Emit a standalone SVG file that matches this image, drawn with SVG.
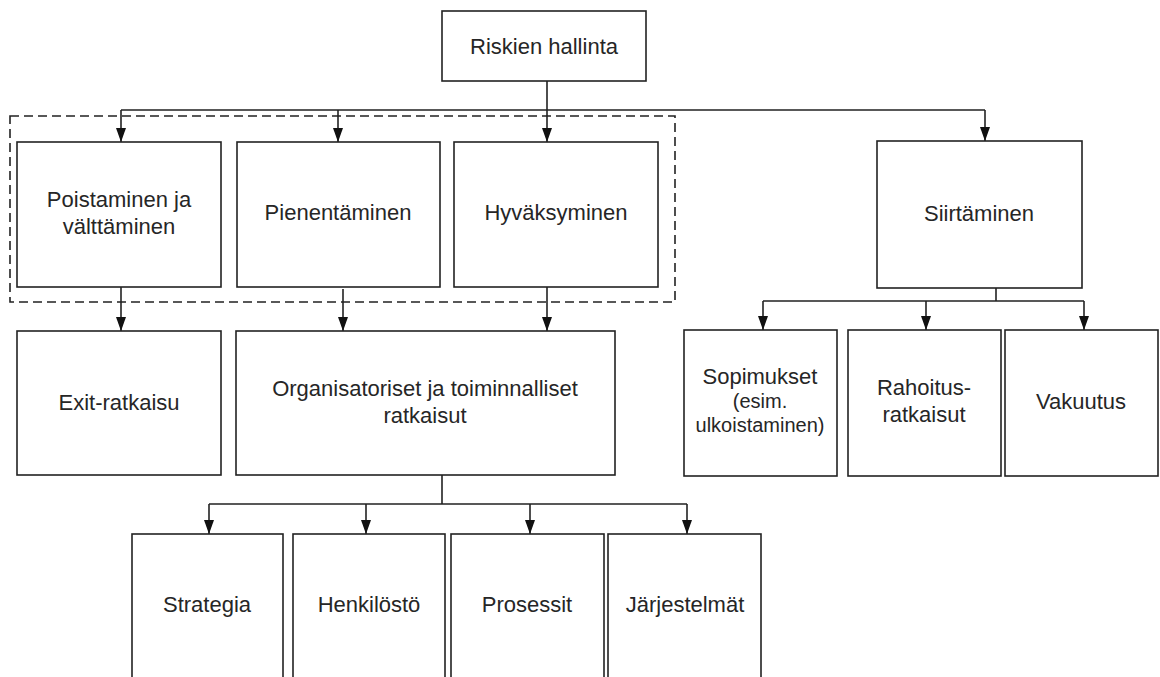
<svg xmlns="http://www.w3.org/2000/svg" width="1160" height="677" viewBox="0 0 1160 677">
  <style>
    .box { fill: #ffffff; stroke: #222222; stroke-width: 1.6; }
    .lbl { font-family: "Liberation Sans", Arial, sans-serif; font-size: 22px; fill: #262626; text-anchor: middle; }
    .sm { font-size: 20px; }
    .wire { fill: none; stroke: #222222; stroke-width: 1.6; }
    .arrow { fill: none; stroke: #222222; stroke-width: 1.6; marker-end: url(#head); }
    .group { fill: none; stroke: #222222; stroke-width: 1.6; stroke-dasharray: 9 5; }
  </style>
  <defs>
    <marker id="head" viewBox="0 0 14 10" refX="14" refY="5" markerWidth="14" markerHeight="10" markerUnits="userSpaceOnUse" orient="auto">
      <path d="M0,0 L14,5 L0,10 z" fill="#111111"/>
    </marker>
  </defs>
  <rect width="1160" height="677" fill="#ffffff"/>

  <!-- dashed grouping frame around the first three strategies -->
  <rect id="group-frame" class="group" x="10" y="116" width="665" height="186"/>

  <g id="connectors">
    <!-- root to first level -->
    <path class="wire" d="M547,81 V110 M121,110 H985"/>
    <path class="arrow" d="M121,110 V142"/>
    <path class="arrow" d="M338,110 V142"/>
    <path class="arrow" d="M547,110 V142"/>
    <path class="arrow" d="M985,110 V141"/>
    <!-- first level to second level -->
    <path class="arrow" d="M121,287 V331"/>
    <path class="arrow" d="M343,289 V331"/>
    <path class="arrow" d="M547,287 V331"/>
    <!-- transfer branch -->
    <path class="wire" d="M996,288 V301 M763,301 H1084"/>
    <path class="arrow" d="M763,301 V330"/>
    <path class="arrow" d="M926,301 V330"/>
    <path class="arrow" d="M1084,301 V330"/>
    <!-- organisational solutions branch -->
    <path class="wire" d="M442,475 V504 M209,504 H687"/>
    <path class="arrow" d="M209,504 V534"/>
    <path class="arrow" d="M366,504 V534"/>
    <path class="arrow" d="M530,504 V534"/>
    <path class="arrow" d="M687,504 V534"/>
  </g>

  <g id="riskien-hallinta">
    <rect class="box" x="442" y="11" width="204" height="70"/>
    <text class="lbl" x="544" y="54">Riskien hallinta</text>
  </g>

  <g id="poistaminen">
    <rect class="box" x="17" y="142" width="204" height="145"/>
    <text class="lbl" x="119" y="207">Poistaminen ja</text>
    <text class="lbl" x="119" y="234">välttäminen</text>
  </g>

  <g id="pienentaminen">
    <rect class="box" x="237" y="142" width="203" height="145"/>
    <text class="lbl" x="338" y="220">Pienentäminen</text>
  </g>

  <g id="hyvaksyminen">
    <rect class="box" x="454" y="142" width="204" height="145"/>
    <text class="lbl" x="556" y="220">Hyväksyminen</text>
  </g>

  <g id="siirtaminen">
    <rect class="box" x="877" y="141" width="205" height="147"/>
    <text class="lbl" x="979" y="221">Siirtäminen</text>
  </g>

  <g id="exit-ratkaisu">
    <rect class="box" x="17" y="331" width="204" height="144"/>
    <text class="lbl" x="119" y="410">Exit-ratkaisu</text>
  </g>

  <g id="organisatoriset">
    <rect class="box" x="236" y="331" width="379" height="144"/>
    <text class="lbl" x="425" y="396">Organisatoriset ja toiminnalliset</text>
    <text class="lbl" x="425" y="423">ratkaisut</text>
  </g>

  <g id="sopimukset">
    <rect class="box" x="684" y="330" width="153" height="146"/>
    <text class="lbl" x="760" y="384">Sopimukset</text>
    <text class="lbl sm" x="760" y="408">(esim.</text>
    <text class="lbl sm" x="760" y="432">ulkoistaminen)</text>
  </g>

  <g id="rahoitus">
    <rect class="box" x="848" y="330" width="153" height="146"/>
    <text class="lbl" x="924" y="395">Rahoitus-</text>
    <text class="lbl" x="924" y="422">ratkaisut</text>
  </g>

  <g id="vakuutus">
    <rect class="box" x="1005" y="330" width="153" height="146"/>
    <text class="lbl" x="1081" y="409">Vakuutus</text>
  </g>

  <g id="strategia">
    <rect class="box" x="132" y="534" width="151" height="150"/>
    <text class="lbl" x="207" y="612">Strategia</text>
  </g>

  <g id="henkilosto">
    <rect class="box" x="293" y="534" width="152" height="150"/>
    <text class="lbl" x="369" y="612">Henkilöstö</text>
  </g>

  <g id="prosessit">
    <rect class="box" x="451" y="534" width="153" height="150"/>
    <text class="lbl" x="527" y="612">Prosessit</text>
  </g>

  <g id="jarjestelmat">
    <rect class="box" x="608" y="534" width="153" height="150"/>
    <text class="lbl" x="685" y="612">Järjestelmät</text>
  </g>
</svg>
